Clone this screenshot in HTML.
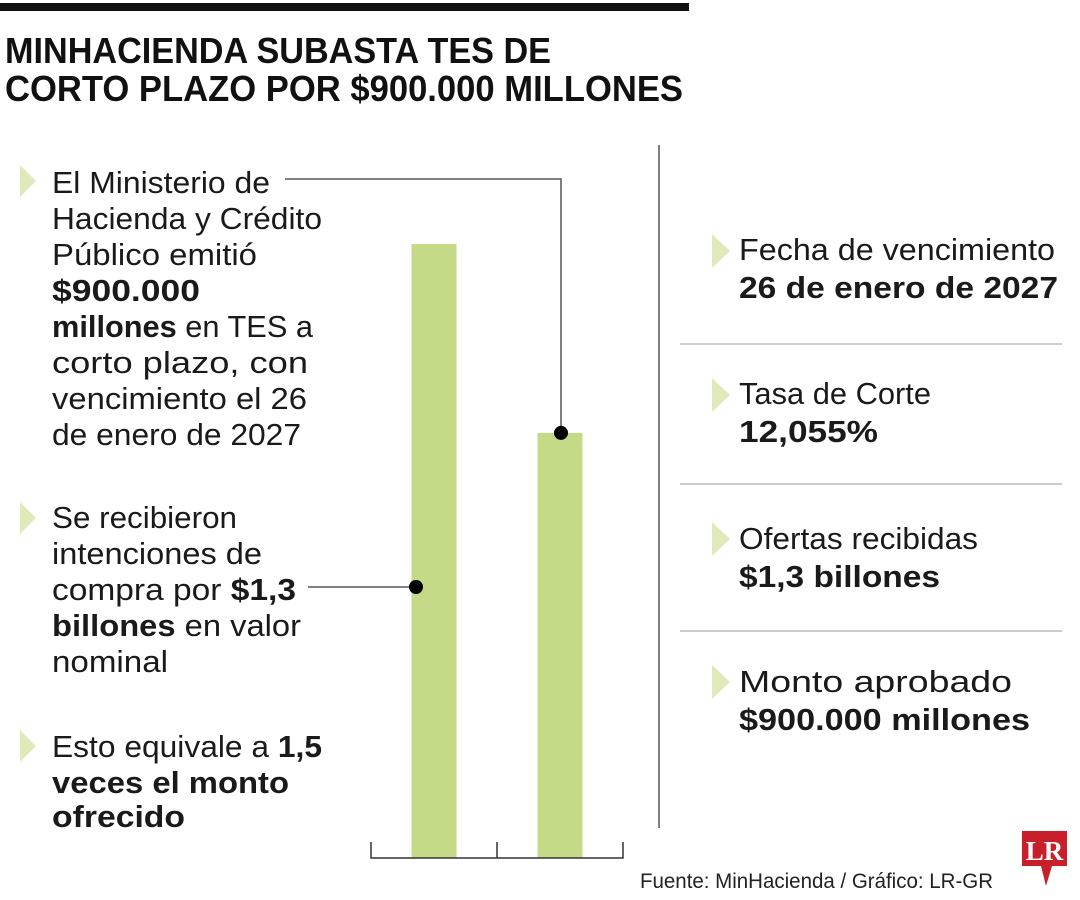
<!DOCTYPE html>
<html><head><meta charset="utf-8"><style>
body{margin:0;background:#fff;}
svg{display:block;font-family:"Liberation Sans Narrow","Liberation Sans",sans-serif;}
.t{font-size:31px;fill:#1a1a1a;}
.b{font-weight:bold;}
</style></head><body>
<svg id="chart" width="1080" height="900" viewBox="0 0 1080 900" xmlns="http://www.w3.org/2000/svg">
<rect x="0" y="3" width="689" height="8" fill="#111"/>
<text class="b" x="5" y="63" font-size="36" fill="#111" textLength="546" lengthAdjust="spacingAndGlyphs">MINHACIENDA SUBASTA TES DE</text>
<text class="b" x="5" y="101" font-size="36" fill="#111" textLength="678" lengthAdjust="spacingAndGlyphs">CORTO PLAZO POR $900.000 MILLONES</text>

<g id="left">
<polygon points="20,165 36,181 20,197" fill="#dfe9b9"/>
<polygon points="20,502 36,518 20,534" fill="#dfe9b9"/>
<polygon points="20,730 36,746 20,762" fill="#dfe9b9"/>
<g class="t">
<text x="52" y="193" textLength="218" lengthAdjust="spacingAndGlyphs">El Ministerio de</text>
<text x="52" y="229" textLength="270" lengthAdjust="spacingAndGlyphs">Hacienda y Crédito</text>
<text x="52" y="265" textLength="205" lengthAdjust="spacingAndGlyphs">Público emitió</text>
<text x="52" y="301" class="b" textLength="148" lengthAdjust="spacingAndGlyphs">$900.000</text>
<text x="52" y="337" textLength="261" lengthAdjust="spacingAndGlyphs"><tspan class="b">millones</tspan> en TES a</text>
<text x="52" y="373" textLength="256" lengthAdjust="spacingAndGlyphs">corto plazo, con</text>
<text x="52" y="409" textLength="255" lengthAdjust="spacingAndGlyphs">vencimiento el 26</text>
<text x="52" y="445" textLength="249" lengthAdjust="spacingAndGlyphs">de enero de 2027</text>
</g>
<g class="t">
<text x="52" y="528" textLength="185" lengthAdjust="spacingAndGlyphs">Se recibieron</text>
<text x="52" y="564" textLength="210" lengthAdjust="spacingAndGlyphs">intenciones de</text>
<text x="52" y="600" textLength="244" lengthAdjust="spacingAndGlyphs">compra por <tspan class="b">$1,3</tspan></text>
<text x="52" y="636" textLength="249" lengthAdjust="spacingAndGlyphs"><tspan class="b">billones</tspan> en valor</text>
<text x="52" y="672" textLength="116" lengthAdjust="spacingAndGlyphs">nominal</text>
</g>
<g class="t">
<text x="52" y="757" textLength="270" lengthAdjust="spacingAndGlyphs">Esto equivale a <tspan class="b">1,5</tspan></text>
<text x="52" y="793" class="b" textLength="237" lengthAdjust="spacingAndGlyphs">veces el monto</text>
<text x="52" y="827" class="b" textLength="133" lengthAdjust="spacingAndGlyphs">ofrecido</text>
</g>
</g>

<g id="bars"></g>

<line x1="659" y1="145" x2="659" y2="828" stroke="#555" stroke-width="1.5"/>
<g>
<line x1="680" y1="344" x2="1062" y2="344" stroke="#bbb" stroke-width="1.5"/>
<line x1="680" y1="484" x2="1062" y2="484" stroke="#bbb" stroke-width="1.5"/>
<line x1="680" y1="631" x2="1062" y2="631" stroke="#bbb" stroke-width="1.5"/>
<polygon points="712,234 730,251 712,268" fill="#dfe9b9"/>
<polygon points="712,378 730,395 712,412" fill="#dfe9b9"/>
<polygon points="712,522 730,539 712,556" fill="#dfe9b9"/>
<polygon points="712,665 730,682 712,699" fill="#dfe9b9"/>
<text class="t" x="739" y="260" textLength="316" lengthAdjust="spacingAndGlyphs">Fecha de vencimiento</text>
<text class="t b" x="739" y="298" textLength="319" lengthAdjust="spacingAndGlyphs">26 de enero de 2027</text>
<text class="t" x="739" y="404" textLength="192" lengthAdjust="spacingAndGlyphs">Tasa de Corte</text>
<text class="t b" x="739" y="442" textLength="139" lengthAdjust="spacingAndGlyphs">12,055%</text>
<text class="t" x="739" y="549" textLength="239" lengthAdjust="spacingAndGlyphs">Ofertas recibidas</text>
<text class="t b" x="739" y="587" textLength="201" lengthAdjust="spacingAndGlyphs">$1,3 billones</text>
<text class="t" x="739" y="692" textLength="273" lengthAdjust="spacingAndGlyphs">Monto aprobado</text>
<text class="t b" x="739" y="730" textLength="291" lengthAdjust="spacingAndGlyphs">$900.000 millones</text>
</g>
<text x="640" y="888" font-size="21" fill="#222" textLength="353" lengthAdjust="spacingAndGlyphs">Fuente: MinHacienda / Gráfico: LR-GR</text>
<g>
<path d="M1022,831 H1067 V866 H1052 L1046,886 L1041,866 H1022 Z" fill="#c8202a"/>
<text x="1044.5" y="860" text-anchor="middle" font-family="Liberation Serif,serif" font-weight="bold" font-size="27" fill="#fff">LR</text>
</g>
</svg>
<script>
const categories = ['Ofertas recibidas', 'Monto aprobado'];
const values = [1.3, 0.9];
const maxValue = 1.3;

const NS = 'http://www.w3.org/2000/svg';
const g = document.getElementById('bars');
const base = 858, top0 = 244, left = 371, band = 126, barW = 45;
function yScale(v){ return base - (v / maxValue) * (base - top0); }
function xBand(i){ return left + i * band + (band - barW) / 2; }
function mk(tag, attrs){ const e = document.createElementNS(NS, tag); for (const k in attrs) e.setAttribute(k, attrs[k]); g.appendChild(e); return e; }

categories.forEach((c, i) => {
  const r = mk('rect', {x: xBand(i), y: yScale(values[i]), width: barW, height: base - yScale(values[i]), fill: '#c5da87'});
  
  
});
// axis baseline and ticks
const ax = mk('path', {d: `M${left},842 V${base} H${left + band * categories.length} V842 M${left + band},${base} V842`, stroke: '#333', 'stroke-width': 1.5, fill: 'none'});



// connectors
const cx1 = xBand(0) + barW / 2 - 18, cy1 = 587;
const l1 = mk('path', {d: `M308,${cy1} H${cx1}`, stroke: '#555', 'stroke-width': 1.5, fill: 'none'});


const d1 = mk('circle', {cx: cx1, cy: cy1, r: 7, fill: '#000'});


const cx2 = xBand(1) + barW / 2 + 1, cy2 = yScale(values[1]);
const l2 = mk('path', {d: `M285,179 H${cx2} V${cy2}`, stroke: '#555', 'stroke-width': 1.5, fill: 'none'});


const d2 = mk('circle', {cx: cx2, cy: cy2, r: 7, fill: '#000'});


</script>
</body></html>
